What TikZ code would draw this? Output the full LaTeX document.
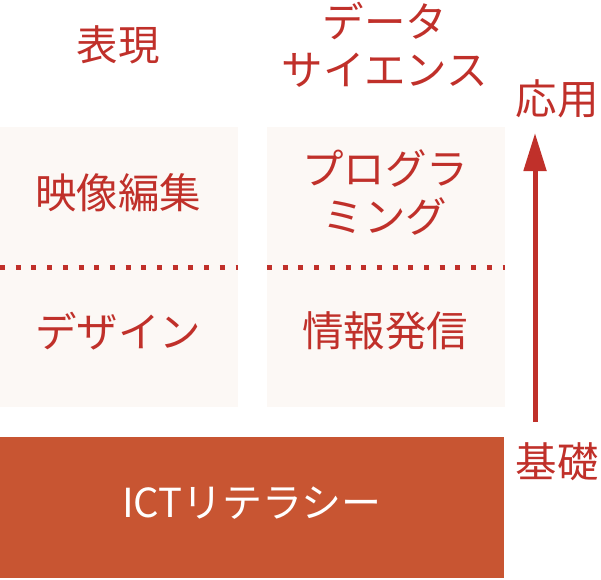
\documentclass[tikz,border=0pt]{standalone}
\usepackage{fontspec}
\newfontfamily\jpfont{Noto Sans CJK JP}
\usepackage{xcolor}
\definecolor{mainRed}{HTML}{C0302A}
\definecolor{panelBg}{HTML}{FCF8F5}
\definecolor{baseBg}{HTML}{C85532}
\usepackage{tikz}
\usetikzlibrary{positioning,calc,arrows.meta}
\tikzset{%
  panelBox/.style={%
    rectangle,
    fill=panelBg,
    anchor=north west,
    minimum width=238pt,
    minimum height=280pt,
    inner sep=0pt
  },
  baseBox/.style={%
    rectangle,
    fill=baseBg,
    anchor=north west,
    minimum width=504pt,
    minimum height=141pt,
    inner sep=0pt
  },
  redLabel/.style={%
    text=mainRed,
    font=\jpfont\fontsize{41.5}{48}\selectfont,
    align=center,
    inner sep=0pt
  },
  baseLabel/.style={%
    text=white,
    font=\jpfont\fontsize{40}{44}\selectfont,
    inner sep=0pt
  },
  dotLine/.style={%
    draw=mainRed,
    line width=5pt,
    dash pattern=on 5pt off 10.7pt
  },
  arrowLine/.style={%
    -{Triangle[length=38pt,width=22pt]},
    line width=5pt,
    color=mainRed
  }
}

\begin{document}
\begin{tikzpicture}[x=1pt,y=-1pt]
            \useasboundingbox (0,0) rectangle (601,579);
            % panels
            \node[panelBox] (leftPanel) at (0,127) {};
            \node[panelBox] (rightPanel) at (267,127) {};
            \node[baseBox] (base) at (0,437) {};

            % dotted separators
            \coordinate (leftDotA) at (0,267);
            \coordinate (leftDotB) at (238,267);
            \coordinate (rightDotA) at (267,267);
            \coordinate (rightDotB) at (505,267);
            \draw[dotLine] (leftDotA) -- (leftDotB);
            \draw[dotLine] (rightDotA) -- (rightDotB);

            % labels
            \node[redLabel] (expr) at (118,45) {表現};
            \node[redLabel] (datasci) at (385,45) {データ\\サイエンス};
            \node[redLabel] (video) at (118,193) {映像編集};
            \node[redLabel] (prog) at (385,192) {プログラ\\ミング};
            \node[redLabel] (design) at (118,331) {デザイン};
            \node[redLabel] (publish) at (385,331) {情報発信};
            \node[baseLabel] (ict) at (252,503) {ICTリテラシー};

            % axis
            \node[redLabel] (applied) at (557,99) {応用};
            \node[redLabel] (basic) at (557,462) {基礎};
            \coordinate (arrowFoot) at (535,422);
            \coordinate (arrowTip) at (535,133);
            \draw[arrowLine] (arrowFoot) -- (arrowTip);
        \end{tikzpicture}
\end{document}
